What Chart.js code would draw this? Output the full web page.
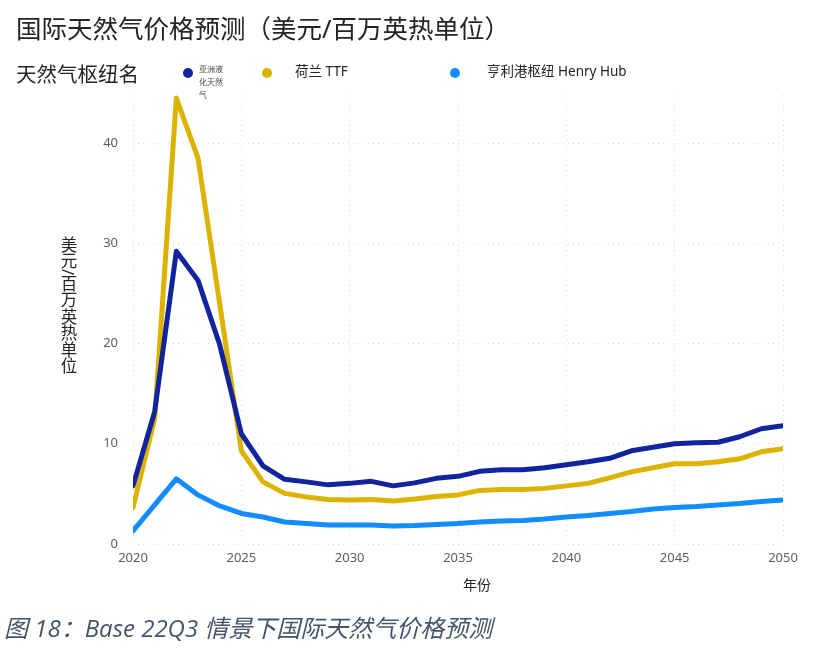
<!DOCTYPE html>
<html lang="zh">
<head>
    <meta charset="utf-8" />
    <title>国际天然气价格预测</title>
    <style>
        body {
            margin: 0;
            width: 821px;
            height: 648px;
            position: relative;
            background: #fff;
            font-family: "Noto Sans", "Noto Sans CJK SC", sans-serif;
            overflow: hidden;
        }
        #chartBox {
            position: absolute;
            left: 0;
            top: 0;
            width: 821px;
            height: 648px;
        }
        .abs { position: absolute; white-space: nowrap; }
        #title { left: 16px; top: 8px; font-size: 25.5px; color: #252423; }
        #legendTitle { left: 16px; top: 58px; font-size: 20.5px; color: #252423; }
        .dot { position: absolute; width: 10px; height: 10px; border-radius: 50%; }
        .legText { font-size: 13.5px; color: #252423; }
        #tinyText { left: 199px; top: 62px; width: 26px; font-size: 8px; line-height: 13px; color: #444; white-space: normal; }
        #yTitle {
            left: 56px; top: 236px; font-size: 16.5px; color: #252423;
            writing-mode: vertical-rl;
        }
        #xTitle { left: 463px; top: 574px; font-size: 14px; color: #252423; }
        #caption {
            left: 4px; top: 609px; font-size: 24px; font-style: italic;
            color: #44546a; font-family: "Open Sans", "Noto Sans CJK SC", sans-serif;
        }
    </style>
</head>
<body>
    <div id="chartBox"><canvas id="gasChart"></canvas></div>

    <div id="title" class="abs">国际天然气价格预测（美元/百万英热单位）</div>
    <div id="legendTitle" class="abs">天然气枢纽名</div>
    <div class="dot" style="left:183px; top:68px; background:#12239e;"></div>
    <div id="tinyText" class="abs">亚洲液化天然气</div>
    <div class="dot" style="left:262px; top:68px; background:#dcb400;"></div>
    <div class="abs legText" style="left:295px; top:60px;">荷兰 TTF</div>
    <div class="dot" style="left:450px; top:68px; background:#118dff;"></div>
    <div class="abs legText" style="left:487px; top:60px;">亨利港枢纽 Henry Hub</div>
    <div id="yTitle" class="abs">美元/百万英热单位</div>
    <div id="xTitle" class="abs">年份</div>
    <div id="caption" class="abs">图 18：Base 22Q3 情景下国际天然气价格预测</div>

    <script src="https://cdn.jsdelivr.net/npm/chart.js"></script>
    <script>
        var years = [2020, 2021, 2022, 2023, 2024, 2025, 2026, 2027, 2028, 2029, 2030,
                     2031, 2032, 2033, 2034, 2035, 2036, 2037, 2038, 2039, 2040,
                     2041, 2042, 2043, 2044, 2045, 2046, 2047, 2048, 2049, 2050];
        var asiaLng = [5.8, 13.2, 29.2, 26.3, 19.9, 11.0, 7.8, 6.45, 6.2, 5.9, 6.05,
                       6.25, 5.8, 6.1, 6.55, 6.75, 7.25, 7.4, 7.4, 7.6, 7.9,
                       8.2, 8.55, 9.3, 9.65, 10.0, 10.1, 10.15, 10.7, 11.5, 11.8];
        var ttf = [3.65, 12.5, 44.5, 38.5, 24.0, 9.3, 6.2, 5.05, 4.7, 4.45, 4.4,
                   4.45, 4.3, 4.5, 4.75, 4.9, 5.35, 5.45, 5.45, 5.55, 5.8,
                   6.05, 6.6, 7.2, 7.6, 8.0, 8.0, 8.2, 8.5, 9.2, 9.5];
        var henryHub = [1.3, 3.9, 6.5, 4.9, 3.8, 3.05, 2.7, 2.2, 2.05, 1.9, 1.9,
                        1.9, 1.8, 1.85, 1.95, 2.05, 2.2, 2.3, 2.35, 2.5, 2.7,
                        2.85, 3.05, 3.25, 3.5, 3.65, 3.75, 3.9, 4.05, 4.25, 4.4];
        var yTicks = [0, 10, 20, 30, 40];

        function toPoints(values) {
            return years.map((yr, i) => ({ x: yr, y: values[i] }));
        }

        function lineSet(label, values, color) {
            return {
                label: label,
                data: toPoints(values),
                borderColor: color,
                backgroundColor: color,
                borderWidth: 5,
                pointRadius: 0,
                tension: 0,
                borderJoinStyle: 'round',
                borderCapStyle: 'round'
            };
        }

        var ctx = document.getElementById('gasChart').getContext('2d');
        var gasChart = new Chart(ctx, {
            type: 'line',
            data: {
                datasets: [
                    lineSet('亚洲液化天然气', asiaLng, '#12239e'),
                    lineSet('荷兰 TTF', ttf, '#dcb400'),
                    lineSet('亨利港枢纽 Henry Hub', henryHub, '#118dff')
                ]
            },
            options: {
                responsive: true,
                maintainAspectRatio: false,
                animation: false,
                layout: { padding: { left: 95, right: 38, top: 95, bottom: 74 } },
                plugins: {
                    legend: { display: false },
                    tooltip: { enabled: false }
                },
                scales: {
                    x: {
                        type: 'linear',
                        min: 2020,
                        max: 2050,
                        afterFit: (s) => { s.height = 30; },
                        ticks: {
                            stepSize: 5,
                            color: '#605e5c',
                            font: { family: 'Noto Sans', size: 13 },
                            padding: 6,
                            callback: (v) => String(v)
                        },
                        grid: { color: '#dcdcdc', lineWidth: 1, drawTicks: false },
                        border: { display: false, dash: [1, 4] }
                    },
                    y: {
                        min: 0,
                        max: 44.8,
                        afterFit: (s) => { s.width = 38; },
                        afterBuildTicks: (s) => { s.ticks = yTicks.map(v => ({ value: v })); },
                        ticks: {
                            color: '#605e5c',
                            font: { family: 'Noto Sans', size: 13 },
                            padding: 15
                        },
                        grid: { color: '#dcdcdc', lineWidth: 1, drawTicks: false },
                        border: { display: false, dash: [1, 4] }
                    }
                }
            }
        });
    </script>
</body>
</html>
